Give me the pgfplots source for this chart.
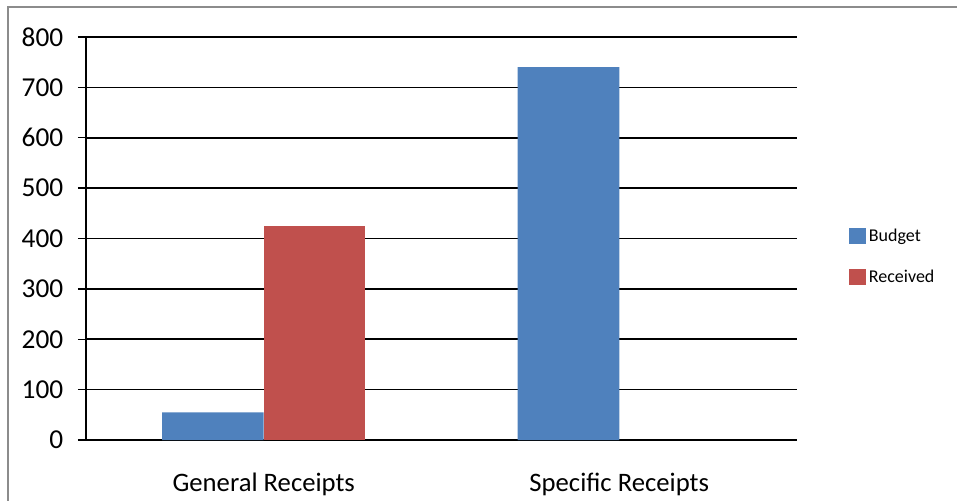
\documentclass[border=0pt]{standalone}
\usepackage{fontspec}
\setmainfont{Carlito}
\usepackage{pgfplots}
\pgfplotsset{compat=1.18}
\definecolor{cblue}{HTML}{4F81BD}
\definecolor{cred}{HTML}{C0504D}
\definecolor{cframe}{HTML}{8C8C8C}
\begin{document}
\begin{tikzpicture}
\useasboundingbox (-64.5pt,-45pt) rectangle (653.25pt,330pt);
\draw[cframe, line width=1.5pt] (-58.5pt,-46pt) -- (-58.5pt,324.75pt) -- (654pt,324.75pt);
\begin{axis}[
  at={(0pt,0pt)}, anchor=south west,
  scale only axis, width=533.25pt, height=302.25pt,
  xmin=-0.5, xmax=1.5, ymin=0, ymax=800,
  ybar=0pt, bar width=76.2pt,
  axis x line*=bottom, axis y line*=left,
  axis line style={line width=1.3pt, -},
  ymajorgrids, grid style={black, line width=1.3pt},
  ytick={0,100,...,800},
  xtick={0,1}, xticklabels={General Receipts, Specific Receipts},
  x tick style={draw=none},
  y tick style={black, line width=1.1pt},
  tick align=outside, major tick length=6pt,
  extra x ticks={-0.5,0.5,1.5}, extra x tick labels={},
  extra x tick style={tick style={draw=black, line width=1.1pt}, major tick length=6pt, grid=none},
  /pgf/number format/assume math mode=true,
  yticklabel style={font=\fontsize{20.5}{24}\selectfont, xshift=-7.5pt},
  xticklabel style={font=\fontsize{20}{24}\selectfont, yshift=-15pt},
  legend style={at={(1.0675,0.455)}, anchor=west, draw=none, fill=none,
    font=\fontsize{13.5}{15}\selectfont, row sep=16pt,
    /tikz/every even column/.append style={column sep=0pt}},
  legend cell align=left,
  legend image code/.code={\fill[#1,draw=none] (0pt,-6pt) rectangle (12.75pt,6pt);},
]
\addplot[fill=cblue, draw=none] coordinates {(0,55) (1,740)};
\addplot[fill=cred, draw=none] coordinates {(0,425)};
\legend{Budget, Received}
\end{axis}
\end{tikzpicture}
\end{document}
